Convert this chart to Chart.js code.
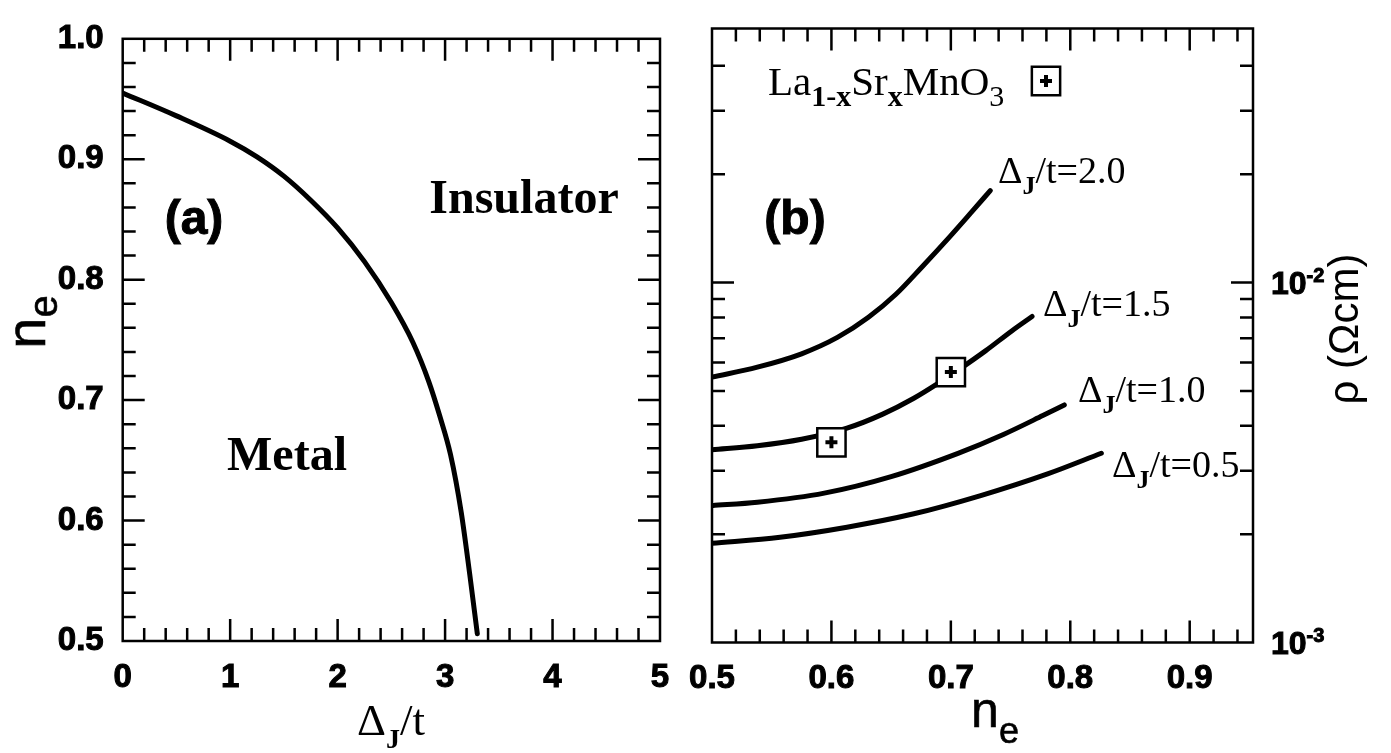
<!DOCTYPE html>
<html lang="en">
<head>
<meta charset="UTF-8">
<title>Phase diagram and resistivity</title>
<script src="https://cdn.jsdelivr.net/npm/chart.js"></script>
<style>
  body { margin: 0; background: #fff; }
  #wrap { position: relative; width: 1391px; height: 753px; }
  canvas { position: absolute; left: 0; top: 0; }
</style>
</head>
<body>
<div id="wrap">
  <canvas id="chartA" width="1391" height="753"></canvas>
  <canvas id="chartB" width="1391" height="753"></canvas>
</div>
<script>
// ---------- panel (a): metal / insulator boundary ----------
const deltaJ     = [0, 0.5, 1.0, 1.25, 1.5, 1.75, 2.0, 2.25, 2.5, 2.7, 2.85, 2.95, 3.05, 3.15, 3.23, 3.30];
const neCritical = [0.955, 0.936, 0.915, 0.902, 0.886, 0.866, 0.843, 0.815, 0.781, 0.748, 0.715, 0.687, 0.655, 0.607, 0.555, 0.506];

// ---------- panel (b): resistivity (Ohm cm) vs n_e ----------
const ne20  = [0.5, 0.538, 0.575, 0.605, 0.631, 0.654, 0.676, 0.699, 0.718, 0.733];
const rho20 = [5.46e-3, 5.82e-3, 6.34e-3, 7.04e-3, 8.01e-3, 9.28e-3, 1.107e-2, 1.340e-2, 1.579e-2, 1.800e-2];
const ne15  = [0.5, 0.538, 0.575, 0.613, 0.643, 0.669, 0.691, 0.706, 0.729, 0.751, 0.768];
const rho15 = [3.43e-3, 3.52e-3, 3.67e-3, 3.94e-3, 4.31e-3, 4.77e-3, 5.29e-3, 5.71e-3, 6.46e-3, 7.34e-3, 8.05e-3];
const ne10  = [0.5, 0.538, 0.594, 0.650, 0.706, 0.744, 0.777, 0.795];
const rho10 = [2.40e-3, 2.453e-3, 2.60e-3, 2.89e-3, 3.354e-3, 3.784e-3, 4.27e-3, 4.57e-3];
const ne05  = [0.5, 0.557, 0.613, 0.669, 0.725, 0.781, 0.826];
const rho05 = [1.887e-3, 1.961e-3, 2.091e-3, 2.278e-3, 2.560e-3, 2.941e-3, 3.356e-3];

// La(1-x)Sr(x)MnO3 experiment
const lsmoNe  = [0.6, 0.7];
const lsmoRho = [3.60e-3, 5.64e-3];

const curveLabels = ['2.0', '1.5', '1.0', '0.5'];
const rhoDecades  = [1e-3, 1e-2];   // labelled ticks of the right axis

const SANS = 'Liberation Sans', SERIF = 'Liberation Serif';
Chart.defaults.color = '#000';

function font(size, weight, fam) {
  return (weight || 'normal') + ' ' + size + 'px "' + fam + '"';
}
function pts(xs, ys) { return xs.map((x, i) => ({ x: x, y: ys[i] })); }

// pieces: [text, size, weight, family, dy]; heavy = extra outline for the bold sans labels
function drawRuns(ctx, runs, x, y, align, heavy) {
  let total = 0;
  runs.forEach(r => { ctx.font = font(r[1], r[2], r[3]); total += ctx.measureText(r[0]).width; });
  let cx = align === 'center' ? x - total / 2 : (align === 'right' ? x - total : x);
  ctx.textAlign = 'left';
  runs.forEach(r => {
    ctx.font = font(r[1], r[2], r[3]);
    ctx.fillText(r[0], cx, y + (r[4] || 0));
    if (heavy) { ctx.lineWidth = heavy; ctx.strokeStyle = '#000'; ctx.strokeText(r[0], cx, y + (r[4] || 0)); }
    cx += ctx.measureText(r[0]).width;
  });
}

// box + inward ticks on all four sides
function drawFrame(chart, xs, ys) {
  const { ctx, chartArea: a, scales } = chart;
  ctx.save();
  ctx.strokeStyle = '#000';
  ctx.lineWidth = 2.5;
  ctx.beginPath();
  xs.forEach(t => {
    const px = scales.x.getPixelForValue(t.v);
    if (px <= a.left + 2 || px >= a.right - 2) return;
    const L = t.major ? 22 : 13;
    ctx.moveTo(px, a.bottom); ctx.lineTo(px, a.bottom - L);
    ctx.moveTo(px, a.top);    ctx.lineTo(px, a.top + L);
  });
  ys.forEach(t => {
    const py = scales.y.getPixelForValue(t.v);
    if (py <= a.top + 2 || py >= a.bottom - 2) return;
    const L = t.major ? 22 : 13;
    ctx.moveTo(a.left, py);  ctx.lineTo(a.left + L, py);
    ctx.moveTo(a.right, py); ctx.lineTo(a.right - L, py);
  });
  ctx.stroke();
  ctx.strokeRect(a.left, a.top, a.right - a.left, a.bottom - a.top);
  ctx.restore();
}

function marker(ctx, x, y) {
  ctx.save();
  ctx.fillStyle = '#fff'; ctx.strokeStyle = '#000';
  ctx.lineWidth = 2.5;
  Chart.helpers.drawPoint(ctx, { pointStyle: 'rect', radius: 20, rotation: 0, borderWidth: 2.5 }, x, y);
  ctx.lineWidth = 4;
  Chart.helpers.drawPoint(ctx, { pointStyle: 'cross', radius: 6, rotation: 0, borderWidth: 4 }, x, y);
  ctx.restore();
}

const tickFont = { family: SANS, size: 33, weight: 'bold' };

// ---------- chart (a) ----------
const panelA = {
  id: 'panelA',
  afterDraw(chart) {
    const ctx = chart.ctx;
    const xs = [], ys = [];
    for (let i = 0; i <= 25; i++) xs.push({ v: i * 0.2, major: i % 5 === 0 });
    for (let i = 0; i <= 25; i++) ys.push({ v: 0.5 + i * 0.02, major: i % 5 === 0 });
    drawFrame(chart, xs, ys);

    ctx.save();
    ctx.fillStyle = '#000';
    ctx.textBaseline = 'alphabetic';
    drawRuns(ctx, [['(a)', 48, 'bold', SANS, 0]], 194, 234, 'center', 1);
    drawRuns(ctx, [['Insulator', 48, 'bold', SERIF, 0]], 524, 213, 'center');
    drawRuns(ctx, [['Metal', 48, 'bold', SERIF, 0]], 287, 470, 'center');

    drawRuns(ctx, [['Δ', 45, 'normal', SERIF, 0], ['J', 28, 'bold', SERIF, 13], ['/t', 45, 'normal', SERIF, 0]], 391, 735, 'center');

    ctx.translate(45, 322);
    ctx.rotate(-Math.PI / 2);
    drawRuns(ctx, [['n', 56, 'normal', SANS, 0], ['e', 40, 'normal', SANS, 12]], 0, 0, 'center', 0.6);
    ctx.restore();
  }
};

new Chart(document.getElementById('chartA'), {
  type: 'line',
  data: {
    datasets: [{
      data: pts(deltaJ, neCritical),
      borderColor: '#000', borderWidth: 5, borderCapStyle: 'round',
      pointRadius: 0, fill: false, cubicInterpolationMode: 'monotone'
    }]
  },
  options: {
    responsive: false, animation: false,
    layout: { padding: { left: 0, top: 27, right: 731, bottom: 0 } },
    plugins: { legend: { display: false }, tooltip: { enabled: false } },
    scales: {
      x: {
        type: 'linear', min: 0, max: 5,
        afterFit: s => { s.height = 112; },
        grid: { display: false, drawTicks: false }, border: { display: false },
        ticks: { stepSize: 1, font: tickFont, padding: 17, maxRotation: 0, autoSkip: false, includeBounds: false,
                 textStrokeColor: '#000', textStrokeWidth: 1, callback: v => String(v) }
      },
      y: {
        type: 'linear', min: 0.5, max: 1.0,
        afterFit: s => { s.width = 122.7; },
        grid: { display: false, drawTicks: false }, border: { display: false },
        ticks: { stepSize: 0.1, font: tickFont, padding: 19, autoSkip: false, includeBounds: false,
                 textStrokeColor: '#000', textStrokeWidth: 1, callback: v => v.toFixed(1) }
      }
    }
  },
  plugins: [panelA]
});

// ---------- chart (b) ----------
const labelPos = [[998, 183], [1043, 316], [1078, 402], [1112, 477]];

const panelB = {
  id: 'panelB',
  afterDraw(chart) {
    const ctx = chart.ctx;
    const yScale = chart.scales.y;
    const xs = [], ys = [];
    for (let i = 0; 0.5 + i * 0.02 < 0.95; i++) xs.push({ v: 0.5 + i * 0.02, major: i % 5 === 0 });
    rhoDecades.forEach(d => {
      for (let m = 1; m <= 9; m++) if (m * d < yScale.max * 0.97) ys.push({ v: m * d, major: m === 1 });
    });
    drawFrame(chart, xs, ys);

    ctx.save();
    ctx.fillStyle = '#000';
    ctx.textBaseline = 'alphabetic';
    drawRuns(ctx, [['(b)', 48, 'bold', SANS, 0]], 795, 234, 'center', 1);

    drawRuns(ctx, [
      ['La', 41, 'normal', SERIF, 0], ['1-x', 30, 'bold', SERIF, 11],
      ['Sr', 41, 'normal', SERIF, 0], ['x', 30, 'bold', SERIF, 11],
      ['MnO', 41, 'normal', SERIF, 0], ['3', 30, 'normal', SERIF, 11]
    ], 768, 95, 'left');
    marker(ctx, 1046, 81);

    curveLabels.forEach((t, i) => {
      drawRuns(ctx, [['Δ', 38, 'normal', SERIF, 0], ['J', 26, 'bold', SERIF, 11], ['/t=' + t, 38, 'normal', SERIF, 0]],
               labelPos[i][0], labelPos[i][1], 'left');
    });

    // decade labels on the right axis
    rhoDecades.forEach(d => {
      const py = yScale.getPixelForValue(d);
      const exp = String(Math.round(Math.log10(d)));
      drawRuns(ctx, [['10', 32, 'bold', SANS, 0], [exp, 20, 'bold', SANS, -12]], 1271, py + 11.5, 'left', 1);
    });

    drawRuns(ctx, [['n', 50, 'normal', SANS, 0], ['e', 36, 'normal', SANS, 16]], 995, 727, 'center', 0.6);

    ctx.translate(1358, 329);
    ctx.rotate(-Math.PI / 2);
    drawRuns(ctx, [['ρ (Ωcm)', 42, 'normal', SANS, 0]], 0, 0, 'center');
    ctx.restore();
  }
};

const lineStyle = { borderColor: '#000', borderWidth: 5, borderCapStyle: 'round', pointRadius: 0, fill: false,
                    cubicInterpolationMode: 'monotone' };

new Chart(document.getElementById('chartB'), {
  type: 'line',
  data: {
    datasets: [
      { data: pts(lsmoNe, lsmoRho), showLine: false, pointStyle: 'cross', pointRadius: 6,
        pointBorderWidth: 4, pointBorderColor: '#000', pointBackgroundColor: '#000' },
      { data: pts(lsmoNe, lsmoRho), showLine: false, pointStyle: 'rect', pointRadius: 20,
        pointBorderWidth: 2.5, pointBorderColor: '#000', pointBackgroundColor: '#fff' },
      Object.assign({ data: pts(ne20, rho20) }, lineStyle),
      Object.assign({ data: pts(ne15, rho15) }, lineStyle),
      Object.assign({ data: pts(ne10, rho10) }, lineStyle),
      Object.assign({ data: pts(ne05, rho05) }, lineStyle)
    ]
  },
  options: {
    responsive: false, animation: false,
    layout: { padding: { left: 712, top: 28.5, right: 138, bottom: 0 } },
    plugins: { legend: { display: false }, tooltip: { enabled: false } },
    scales: {
      x: {
        type: 'linear', min: 0.5, max: 0.953,
        afterFit: s => { s.height = 110.5; },
        grid: { display: false, drawTicks: false }, border: { display: false },
        ticks: { stepSize: 0.1, font: tickFont, padding: 17, maxRotation: 0, autoSkip: false, includeBounds: false,
                 textStrokeColor: '#000', textStrokeWidth: 1, callback: v => v.toFixed(1) }
      },
      y: { type: 'logarithmic', min: 0.001, max: 0.0508, display: false }
    }
  },
  plugins: [panelB]
});
</script>
</body>
</html>
